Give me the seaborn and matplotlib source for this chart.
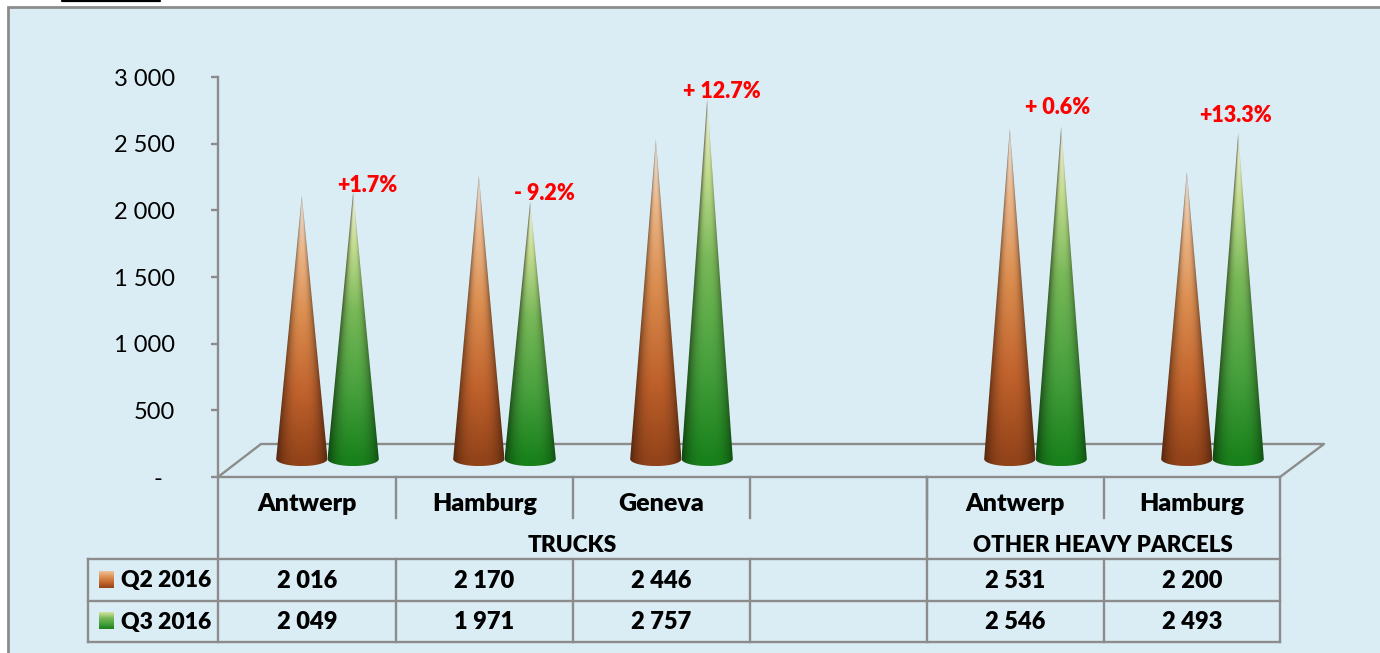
import matplotlib.pyplot as plt
import numpy as np
import pandas as pd
import seaborn as sns
from matplotlib.colors import LinearSegmentedColormap
from matplotlib.patches import Polygon, Rectangle

places = ["Antwerp", "Hamburg", "Geneva", "", "Antwerp", "Hamburg"]
groups = ["TRUCKS", "TRUCKS", "TRUCKS", "TRUCKS", "OTHER HEAVY PARCELS", "OTHER HEAVY PARCELS"]
q2_2016 = [2016, 2170, 2446, np.nan, 2531, 2200]
q3_2016 = [2049, 1971, 2757, np.nan, 2546, 2493]
changes = ["+1.7%", "- 9.2%", "+ 12.7%", "+ 0.6%", "+13.3%"]
yticks = [0, 500, 1000, 1500, 2000, 2500, 3000]

PANEL = "#dbedf4"
GREY = "#8c8c8c"
W, H = 1380, 653

brown = LinearSegmentedColormap.from_list(
    "brown",
    [(0, "#94441a"), (0.25, "#c0622c"), (0.55, "#dc8e50"), (0.8, "#ecb78a"), (0.93, "#e8d3c0"), (1, "#ded8cf")],
)
green = LinearSegmentedColormap.from_list(
    "green",
    [(0, "#1a821c"), (0.25, "#46a03c"), (0.55, "#78b858"), (0.8, "#c4dd90"), (0.93, "#e0e8c2"), (1, "#dfe3d4")],
)

sns.set_theme(style="white")
plt.rcParams["font.family"] = ["Lato", "DejaVu Sans"]
plt.rcParams["text.color"] = "black"


def thousands(v):
    return f"{int(v):,}".replace(",", " ")


def px_axes(fig, left, top, right, bottom):
    # axes placed by pixel box of the picture, y counted from the top
    return fig.add_axes([left / W, 1 - bottom / H, (right - left) / W, (bottom - top) / H])


def draw_cone(ax, bar, cmap, dip=54):
    xc = bar.get_x() + bar.get_width() / 2
    half = bar.get_width() / 2
    top = bar.get_height()
    ang = np.linspace(np.pi, 2 * np.pi, 40)
    verts = [(xc, top)] + [(xc + half * np.cos(a), dip * np.sin(a)) for a in ang]
    clip = Polygon(verts, closed=True, transform=ax.transData)

    xs = np.linspace(xc - half, xc + half, 120)
    ys = np.linspace(-dip, top, 400)
    gx, gy = np.meshgrid(xs, ys)
    t = np.clip(gy / top, 0, 1)
    u = (gx - xc) / (half * (1 - t) + 1e-3)
    rgb = cmap(t)[:, :, :3]
    shade = 1 - 0.45 * np.clip(np.abs(u), 0, 1) ** 3
    rgb = rgb * shade[:, :, None]
    im = ax.imshow(
        rgb, origin="lower", extent=(xc - half, xc + half, -dip, top),
        aspect="auto", interpolation="bilinear",
    )
    im.set_clip_path(clip)
    im.set_clip_box(ax.figure.bbox)


fig = plt.figure(figsize=(W / 100, H / 100), dpi=100, facecolor="white")

# background layer in picture pixels: panel, floor, table
bg = fig.add_axes([0, 0, 1, 1], zorder=0)
bg.axis("off")
bg.add_patch(Rectangle((8, 7), W, H, facecolor=PANEL, edgecolor=GREY, linewidth=2, zorder=0))
bg.plot([62, 160], [1, 1], color="black", lw=1.6)


def rule(xs, ys):
    bg.plot(xs, ys, color=GREY, lw=1.7, solid_capstyle="projecting")


cells = [218, 396, 573, 750, 927, 1104, 1280]
rule([218, 1280], [477, 477])
rule([218, 261, 1324, 1280], [477, 444, 444, 477])
for y in [559, 601, 642]:
    rule([88, 1280], [y, y])
rule([218, 218], [477, 642])
rule([1280, 1280], [477, 642])
rule([88, 88], [559, 642])
rule([927, 927], [477, 559])
for x in cells[1:-1]:
    rule([x, x], [477, 518])
    rule([x, x], [559, 642])

label = dict(ha="center", va="center", fontsize=17, fontweight="heavy", color="black")
for i, place in enumerate(places):
    xc = (cells[i] + cells[i + 1]) / 2
    bg.text(xc, 504, place, **{**label, "fontsize": 18})
    if not np.isnan(q2_2016[i]):
        bg.text(xc, 581, thousands(q2_2016[i]), **label)
        bg.text(xc, 622, thousands(q3_2016[i]), **label)
bg.text(572, 546, groups[0], **{**label, "fontsize": 16.3})
bg.text(1103, 546, groups[-1], **{**label, "fontsize": 16})

for y, name, cmap in [(580, "Q2 2016", brown), (621, "Q3 2016", green)]:
    bg.text(121, y + 1, name, ha="left", va="center", fontsize=16.5, fontweight="heavy", color="black")
    ramp = cmap(np.linspace(0, 0.85, 32))[::-1, None, :3]
    bg.imshow(ramp, origin="upper", extent=(99, 114, y + 8, y - 9),
              aspect="auto", interpolation="bilinear", zorder=2)
bg.set_xlim(0, W)
bg.set_ylim(H, 0)

# value axis
ax = px_axes(fig, 218, 77, 1280, 477)
ax.patch.set_alpha(0)
ax.set_zorder(1)
ax.set_ylim(0, 3000)
ax.set_xticks([])
ax.set_yticks(yticks)
ax.set_yticklabels(["-  " if v == 0 else thousands(v) for v in yticks], fontsize=17, color="black")
ax.tick_params(axis="y", left=True, length=5, width=1.7, color=GREY, pad=26)
sns.despine(ax=ax, bottom=True)
ax.spines["left"].set_color(GREY)
ax.spines["left"].set_linewidth(1.7)

# cones stand on the back plane of the floor, shifted from the value axis
cone_ax = px_axes(fig, 239, 67, 1301, 459)
cone_ax.set_zorder(2)
cone_ax.patch.set_alpha(0)
keys = [f"{g} {p}" if p else "blank" for g, p in zip(groups, places)]
data = pd.DataFrame({
    "key": keys * 2,
    "quarter": ["Q2 2016"] * 6 + ["Q3 2016"] * 6,
    "value": q2_2016 + q3_2016,
})
sns.barplot(
    data=data, x="key", y="value", hue="quarter", order=keys,
    width=0.58, gap=0, legend=False, ax=cone_ax,
)
for container, cmap in zip(cone_ax.containers, [brown, green]):
    for bar in container:
        if bar.get_height() > 0:
            draw_cone(cone_ax, bar, cmap)
        bar.set_visible(False)
cone_ax.set_xlim(-0.5, 5.5)
cone_ax.set_ylim(0, 3000)
cone_ax.axis("off")

# change labels
top = fig.add_axes([0, 0, 1, 1], zorder=3)
top.set_xlim(0, W)
top.set_ylim(H, 0)
top.axis("off")
label_pos = [(367, 185), (544, 194), (722, 92), (1058, 108), (1236, 116)]
for text, (x, y) in zip(changes, label_pos):
    top.text(x, y, text, color="#ff0000", fontsize=15.5, fontweight="heavy", ha="center", va="center")

fig.savefig("out.png", dpi=100)
